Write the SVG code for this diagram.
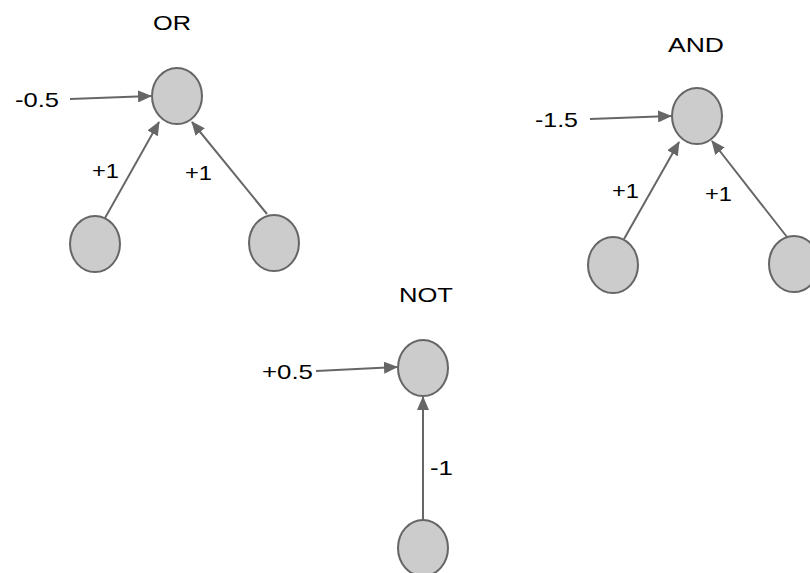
<svg xmlns="http://www.w3.org/2000/svg" width="810" height="573" viewBox="0 0 810 573">
<style>
.node{fill:#cccccc;stroke:#666666;stroke-width:2}
.edge{stroke:#666666;stroke-width:2;fill:none;marker-end:url(#ah)}
text{font-family:"Liberation Sans",Arial,sans-serif;font-size:21px;fill:#000}
</style>
<defs>
<marker id="ah" markerUnits="userSpaceOnUse" markerWidth="14" markerHeight="12" refX="13" refY="6" orient="auto">
<path d="M0,0 L14,6 L0,12 Z" fill="#666666"/>
</marker>
</defs>
<rect width="810" height="573" fill="#ffffff"/>
<g id="connectors">
<line class="edge" x1="70" y1="99" x2="151" y2="96"/>
<line class="edge" x1="105" y1="218" x2="159" y2="122"/>
<line class="edge" x1="267" y1="214" x2="192" y2="122"/>
<line class="edge" x1="590" y1="119" x2="671" y2="116"/>
<line class="edge" x1="624" y1="239" x2="679" y2="142"/>
<line class="edge" x1="787" y1="237" x2="712" y2="141"/>
<line class="edge" x1="316" y1="371" x2="397" y2="367"/>
<line class="edge" x1="423" y1="520" x2="423" y2="397"/>
</g>
<g id="or-title"><text x="153" y="30" textLength="38" lengthAdjust="spacingAndGlyphs">OR</text></g>
<g id="or-out"><ellipse class="node" cx="177" cy="96" rx="25" ry="28"/></g>
<g id="or-in1"><ellipse class="node" cx="95" cy="244" rx="25" ry="28"/></g>
<g id="or-in2"><ellipse class="node" cx="274" cy="243" rx="25" ry="28"/></g>
<g id="or-labels">
<text x="15" y="107" textLength="44" lengthAdjust="spacingAndGlyphs">-0.5</text>
<text x="92" y="178" textLength="27" lengthAdjust="spacingAndGlyphs">+1</text>
<text x="185" y="180" textLength="27" lengthAdjust="spacingAndGlyphs">+1</text>
</g>
<g id="and-title"><text x="668" y="52" textLength="56" lengthAdjust="spacingAndGlyphs">AND</text></g>
<g id="and-out"><ellipse class="node" cx="697" cy="116" rx="25" ry="28"/></g>
<g id="and-in1"><ellipse class="node" cx="613" cy="265" rx="25" ry="28"/></g>
<g id="and-in2"><ellipse class="node" cx="794" cy="264" rx="25" ry="28"/></g>
<g id="and-labels">
<text x="535" y="127" textLength="43" lengthAdjust="spacingAndGlyphs">-1.5</text>
<text x="612" y="198" textLength="27" lengthAdjust="spacingAndGlyphs">+1</text>
<text x="705" y="201" textLength="27" lengthAdjust="spacingAndGlyphs">+1</text>
</g>
<g id="not-title"><text x="399" y="302" textLength="54" lengthAdjust="spacingAndGlyphs">NOT</text></g>
<g id="not-out"><ellipse class="node" cx="423" cy="368" rx="25" ry="28"/></g>
<g id="not-in"><ellipse class="node" cx="423" cy="548" rx="25" ry="28"/></g>
<g id="not-labels">
<text x="262" y="379" textLength="51" lengthAdjust="spacingAndGlyphs">+0.5</text>
<text x="430" y="475" textLength="23" lengthAdjust="spacingAndGlyphs">-1</text>
</g>
</svg>
